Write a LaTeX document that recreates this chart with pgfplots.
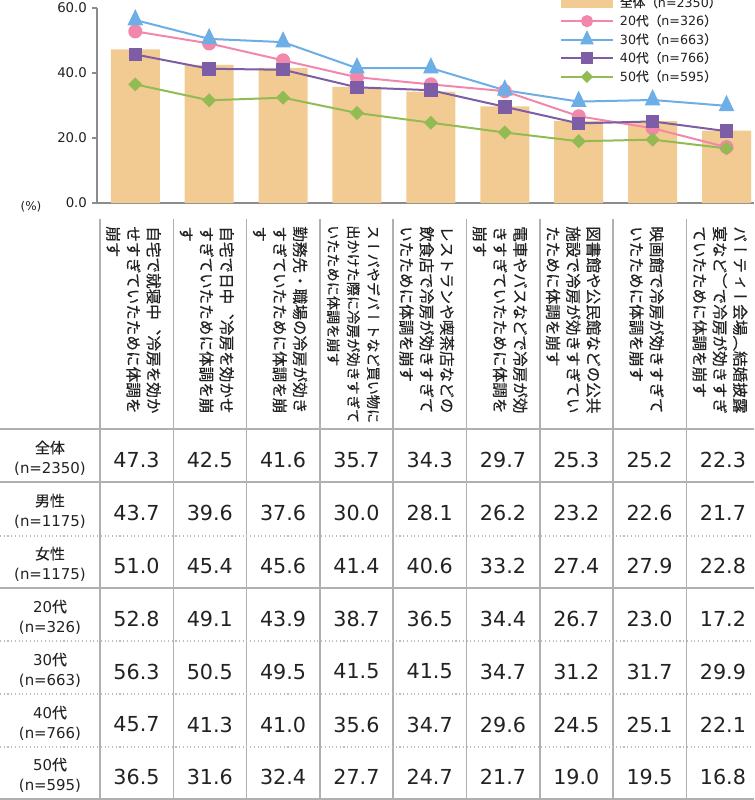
\documentclass[border=0pt]{standalone}
\usepackage{fontspec}
\usepackage{pgfplots}
\usepackage{pgfplotstable}
\pgfplotsset{compat=1.18}
\setmainfont{DejaVu Sans}
\newfontfamily\jp[FakeBold=0.3]{Noto Sans CJK JP}
\newfontfamily\vjp[Vertical=RotatedGlyphs,FakeBold=0.4]{Noto Sans CJK JP}

\definecolor{barc}{HTML}{F2CB93}
\definecolor{pinkc}{HTML}{F287AC}
\definecolor{bluec}{HTML}{6CAEE5}
\definecolor{purpc}{HTML}{7D5DA6}
\definecolor{greenc}{HTML}{93BB54}
\definecolor{axisc}{HTML}{8C8C8C}
\definecolor{rulec}{HTML}{B0B0B0}
\definecolor{dotc}{HTML}{BDBDBD}
\definecolor{txtc}{HTML}{222222}

% share (%) of respondents per situation: total, male, female, age groups
\pgfplotstableread{
x all male female a20 a30 a40 a50
0 47.3 43.7 51.0 52.8 56.3 45.7 36.5
1 42.5 39.6 45.4 49.1 50.5 41.3 31.6
2 41.6 37.6 45.6 43.9 49.5 41.0 32.4
3 35.7 30.0 41.4 38.7 41.5 35.6 27.7
4 34.3 28.1 40.6 36.5 41.5 34.7 24.7
5 29.7 26.2 33.2 34.4 34.7 29.6 21.7
6 25.3 23.2 27.4 26.7 31.2 24.5 19.0
7 25.2 22.6 27.9 23.0 31.7 25.1 19.5
8 22.3 21.7 22.8 17.2 29.9 22.1 16.8
}\survey

\pgfplotsset{
  smalllegend/.style={
    legend image code/.code={%
      \draw[mark repeat=2,mark phase=2,##1,every mark/.append style={scale=0.85}]
        plot coordinates {(0pt,0pt) (19.5pt,0pt) (39pt,0pt)};}
  }
}

\begin{document}
\begin{tikzpicture}[x=0.75pt,y=-0.75pt]
\path[use as bounding box] (0,0) rectangle (754,800);
\coordinate (plotorigin) at (97,203);

\begin{axis}[
  at={(plotorigin)}, anchor=south west,
  scale only axis, width=492.75pt, height=146.25pt,
  xmin=-0.518, xmax=8.372, ymin=0, ymax=60,
  axis lines*=left,
  axis line style={draw=axisc, line width=1.5pt},
  xtick=\empty, ytick={0,20,40,60},
  tick align=outside, major tick length=4pt,
  ytick style={draw=axisc, line width=1.2pt},
  yticklabel style={font=\fontsize{10}{12}\selectfont, text=txtc},
  /pgf/number format/fixed,
  /pgf/number format/fixed zerofill,
  /pgf/number format/precision=1,
  /pgf/number format/assume math mode=true,
  clip=false,
  legend cell align=left,
  legend style={at={(0.7047,1.075)}, anchor=north west, draw=none, fill=none,
    inner sep=0pt, outer sep=0pt, row sep=0pt,
    font=\fontsize{9.5}{11}\selectfont,
    nodes={inner sep=0pt, minimum height=13.9pt, text=txtc},
    /tikz/every odd column/.append style={column sep=4.5pt}},
]
\addplot[ybar, bar width=36.75pt, bar shift=0pt, fill=barc, draw=none,
  legend image code/.code={\fill[barc] (0pt,-4.2pt) rectangle (39pt,4.2pt);}]
  table[x=x,y=all]{\survey};
\addlegendentry{{\jp 全体（}n=2350{\jp ）}}

\addplot[smalllegend, pinkc, line width=1.5pt, mark=*, mark size=4.5pt,
  mark options={draw=none, fill=pinkc}]
  table[x=x,y=a20]{\survey};
\addlegendentry{20{\jp 代（}n=326{\jp ）}}

\addplot[smalllegend, bluec, line width=1.5pt, mark=triangle*, mark size=5.4pt,
  mark options={draw=none, fill=bluec, yscale=1.2}]
  table[x=x,y=a30]{\survey};
\addlegendentry{30{\jp 代（}n=663{\jp ）}}

\addplot[smalllegend, purpc, line width=1.5pt, mark=square*, mark size=4.3pt,
  mark options={draw=none, fill=purpc}]
  table[x=x,y=a40]{\survey};
\addlegendentry{40{\jp 代（}n=766{\jp ）}}

\addplot[smalllegend, greenc, line width=1.5pt, mark=square*, mark size=3pt,
  mark options={draw=none, fill=greenc, rotate=45}]
  table[x=x,y=a50]{\survey};
\addlegendentry{50{\jp 代（}n=595{\jp ）}}
\end{axis}

\node[font=\fontsize{9}{11}\selectfont, text=txtc] at (31,207) {(\%)};

% table rules
\foreach \k in {0,...,8}
  \draw[rulec, line width=1.2pt] ({100+73.3*\k},219) -- ({100+73.3*\k},800);
\foreach \yy in {429,482,588,799}
  \draw[rulec, line width=1.2pt] (0,\yy) -- (754,\yy);
\foreach \yy in {536,641,694,747}
  \draw[dotc, line width=0.8pt, dash pattern=on 0.8pt off 2pt] (0,\yy) -- (754,\yy);

% vertical category labels
\tikzset{vlab/.style={rotate=-90, anchor=west, inner sep=0pt, align=left, text=txtc,
  font=\vjp\fontsize{11.7}{15.2}\selectfont}}
\node[vlab] at (133.5,226) {自宅で就寝中、冷房を効か\\せすぎていたために体調を\\崩す};
\node[vlab] at (206.8,226) {自宅で日中、冷房を効かせ\\すぎていたために体調を崩\\す};
\node[vlab] at (280.1,226) {勤務先・職場の冷房が効き\\すぎていたために体調を崩\\す};
\node[vlab, font=\vjp\fontsize{10.6}{15}\selectfont] at (353.4,225) {スーパやデパートなど買い物に\\出かけた際に冷房が効きすぎて\\いたために体調を崩す};
\node[vlab] at (426.7,226) {レストランや喫茶店などの\\飲食店で冷房が効きすぎて\\いたために体調を崩す};
\node[vlab] at (500.0,226) {電車やバスなどで冷房が効\\きすぎていたために体調を\\崩す};
\node[vlab] at (573.3,226) {図書館や公民館などの公共\\施設で冷房が効きすぎてい\\たために体調を崩す};
\node[vlab] at (646.6,226) {映画館で冷房が効きすぎて\\いたために体調を崩す};
\node[vlab] at (719.9,226) {パーティー会場（結婚披露\\宴など）で冷房が効きすぎ\\ていたために体調を崩す};

% row labels
\tikzset{rlab/.style={align=center, inner sep=0pt, text=txtc, font=\fontsize{11.2}{15}\selectfont}}
\node[rlab] at (50,458) {{\jp 全体}\\(n=2350)};
\node[rlab] at (50,511) {{\jp 男性}\\(n=1175)};
\node[rlab] at (50,564) {{\jp 女性}\\(n=1175)};
\node[rlab] at (50,617) {20{\jp 代}\\(n=326)};
\node[rlab] at (50,670) {30{\jp 代}\\(n=663)};
\node[rlab] at (50,723) {40{\jp 代}\\(n=766)};
\node[rlab] at (50,775) {50{\jp 代}\\(n=595)};

% values
\foreach \col/\yy in {all/459.5, male/513, female/566, a20/618.5, a30/671.5, a40/724.5, a50/777} {
  \foreach \j in {0,...,8} {
    \pgfplotstablegetelem{\j}{\col}\of\survey
    \let\val\pgfplotsretval
    \node[text=txtc, font=\fontsize{15.5}{18}\selectfont, inner sep=0pt]
      at ({136.5+73.3*\j},\yy)
      {\pgfmathprintnumber[fixed, fixed zerofill, precision=1, assume math mode=true]{\val}};
  }
}
\end{tikzpicture}
\end{document}
